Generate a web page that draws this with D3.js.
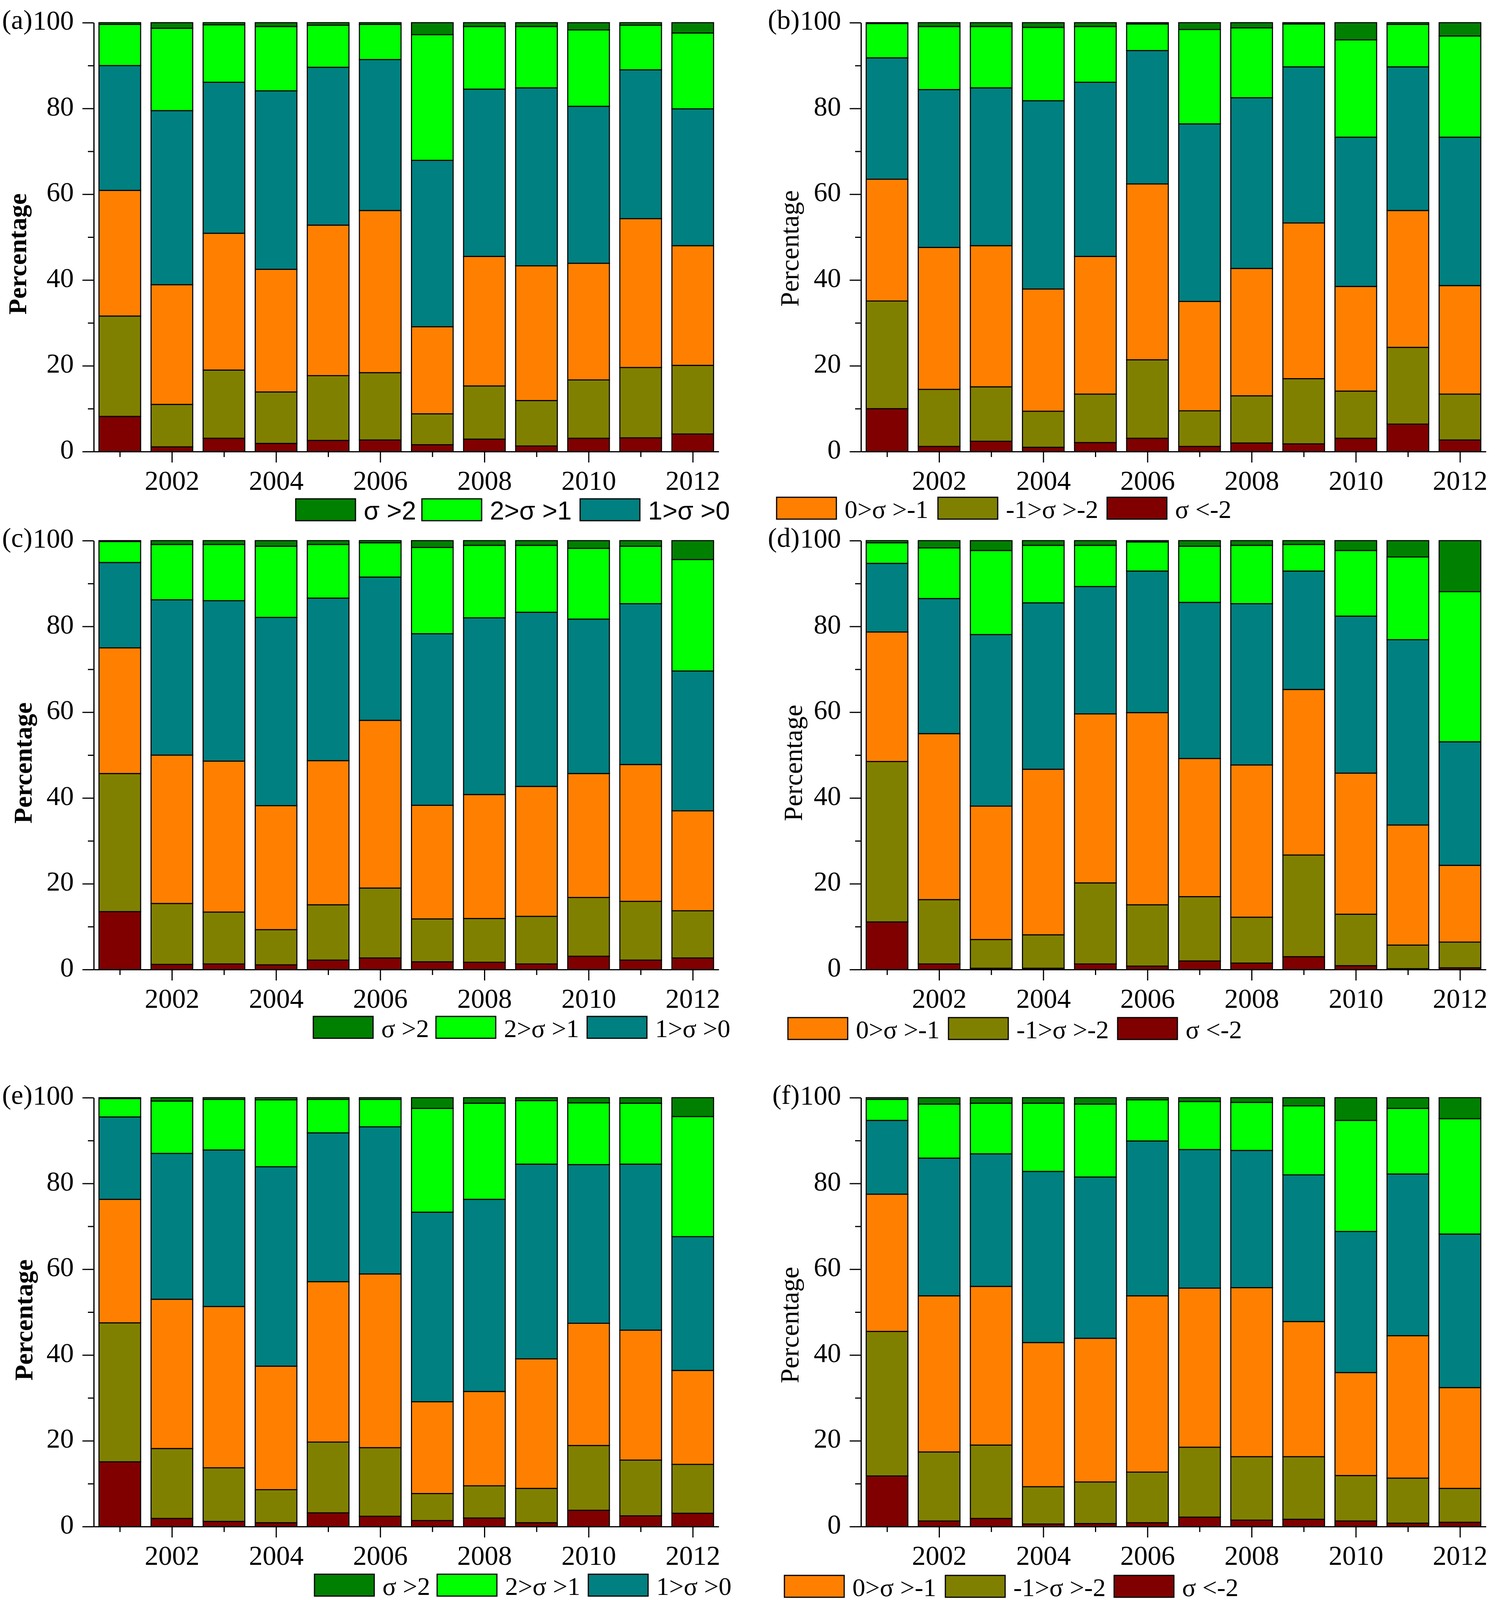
<!DOCTYPE html>
<html>
<head>
<meta charset="utf-8">
<script src="https://cdn.jsdelivr.net/npm/d3@7"></script>
<style>
  body { margin: 0; background: #fff; }
  .axis .domain { stroke: #000; stroke-width: 3.2; }
  .axis line { stroke: #000; stroke-width: 3; }
  .axis text { font-family: "Liberation Serif", "Times New Roman", serif; font-size: 70px; fill: #000; }
</style>
</head>
<body>
<svg id="chart" width="3827" height="4110"></svg>
<script>
// categories
const years = [2001, 2002, 2003, 2004, 2005, 2006, 2007, 2008, 2009, 2010, 2011, 2012];

// series, bottom to top of each stacked bar
const seriesKeys = ['lt2', 'm2', 'm1', 'z1', 'p12', 'gt2'];
const seriesColors = ['#800000', '#808000', '#ff8000', '#008080', '#00ff00', '#008000'];
const seriesLabels = ['σ <-2', '-1>σ >-2', '0>σ >-1', '1>σ >0', '2>σ >1', 'σ >2'];

// legend contents (upper-sigma legend under left panels, lower under right)
const legendUpperKeys = ['gt2', 'p12', 'z1'];
const legendLowerKeys = ['m1', 'm2', 'lt2'];

// ticks
const yTicksMajor = [0, 20, 40, 60, 80, 100];
const yTicksMinor = [10, 30, 50, 70, 90];
const xTicksMajor = [2002, 2004, 2006, 2008, 2010, 2012];
const xTicksMinor = [2001, 2003, 2005, 2007, 2009, 2011];

// percentages per panel, one row per series (lt2, m2, m1, z1, p12, gt2), one column per year
const valuesA = [
  [8.2, 1.1, 3.1, 1.9, 2.6, 2.7, 1.6, 2.9, 1.3, 3.1, 3.2, 4.1],
  [23.4, 9.9, 15.9, 12.0, 15.1, 15.7, 7.2, 12.4, 10.6, 13.6, 16.4, 16.0],
  [29.3, 27.9, 31.9, 28.6, 35.1, 37.8, 20.3, 30.2, 31.4, 27.2, 34.7, 27.9],
  [29.1, 40.6, 35.2, 41.6, 36.8, 35.2, 38.8, 39.0, 41.5, 36.6, 34.7, 31.9],
  [9.6, 19.2, 13.4, 15.0, 9.8, 8.2, 29.3, 14.6, 14.3, 17.8, 10.4, 17.7],
  [0.4, 1.3, 0.5, 0.9, 0.6, 0.4, 2.8, 0.9, 0.9, 1.7, 0.6, 2.4]
];
const valuesB = [
  [10.0, 1.2, 2.4, 1.0, 2.1, 3.1, 1.2, 2.0, 1.8, 3.1, 6.4, 2.7],
  [25.1, 13.3, 12.7, 8.4, 11.3, 18.3, 8.3, 11.0, 15.2, 11.0, 17.9, 10.7],
  [28.4, 33.1, 32.9, 28.5, 32.1, 41.0, 25.5, 29.7, 36.3, 24.4, 31.9, 25.3],
  [28.3, 36.8, 36.8, 43.9, 40.6, 31.1, 41.4, 39.8, 36.4, 34.8, 33.5, 34.6],
  [8.0, 14.7, 14.3, 17.1, 13.0, 6.2, 22.0, 16.3, 10.0, 22.7, 9.9, 23.6],
  [0.2, 0.9, 0.9, 1.1, 0.9, 0.3, 1.6, 1.2, 0.3, 4.0, 0.4, 3.1]
];
const valuesC = [
  [13.5, 1.2, 1.3, 1.1, 2.2, 2.7, 1.8, 1.7, 1.3, 3.1, 2.2, 2.7],
  [32.2, 14.2, 12.1, 8.2, 12.9, 16.3, 10.0, 10.2, 11.1, 13.7, 13.7, 11.0],
  [29.3, 34.6, 35.2, 28.9, 33.6, 39.1, 26.5, 28.9, 30.3, 28.9, 31.9, 23.3],
  [19.9, 36.2, 37.4, 43.9, 37.9, 33.4, 40.0, 41.2, 40.6, 36.0, 37.5, 32.6],
  [4.9, 12.9, 13.1, 16.6, 12.5, 8.0, 20.1, 16.9, 15.6, 16.5, 13.4, 26.0],
  [0.2, 0.9, 0.9, 1.3, 0.9, 0.5, 1.6, 1.1, 1.1, 1.8, 1.3, 4.4]
];
const valuesD = [
  [11.1, 1.3, 0.3, 0.3, 1.3, 0.8, 2.0, 1.5, 3.0, 0.9, 0.2, 0.4],
  [37.4, 15.0, 6.7, 7.8, 18.9, 14.3, 15.0, 10.7, 23.7, 12.0, 5.5, 6.0],
  [30.2, 38.7, 31.1, 38.6, 39.4, 44.8, 32.2, 35.5, 38.6, 32.9, 28.0, 17.9],
  [16.0, 31.5, 40.0, 38.8, 29.7, 33.0, 36.4, 37.6, 27.6, 36.6, 43.2, 28.8],
  [4.8, 11.8, 19.6, 13.4, 9.6, 6.8, 13.1, 13.6, 6.2, 15.3, 19.3, 35.0],
  [0.5, 1.7, 2.3, 1.1, 1.1, 0.3, 1.3, 1.1, 0.9, 2.3, 3.8, 11.9]
];
const valuesE = [
  [15.1, 1.9, 1.2, 0.9, 3.2, 2.4, 1.4, 2.0, 0.9, 3.8, 2.5, 3.1],
  [32.4, 16.3, 12.5, 7.7, 16.5, 16.0, 6.3, 7.5, 8.0, 15.1, 13.0, 11.4],
  [28.8, 34.8, 37.6, 28.8, 37.4, 40.5, 21.4, 22.0, 30.2, 28.5, 30.3, 21.9],
  [19.2, 34.0, 36.5, 46.5, 34.7, 34.3, 44.2, 44.8, 45.4, 37.0, 38.7, 31.2],
  [4.3, 12.2, 11.8, 15.6, 7.8, 6.4, 24.2, 22.4, 14.8, 14.4, 14.2, 28.0],
  [0.2, 0.8, 0.4, 0.5, 0.4, 0.4, 2.5, 1.3, 0.7, 1.2, 1.3, 4.4]
];
const valuesF = [
  [11.8, 1.3, 1.9, 0.6, 0.7, 0.9, 2.2, 1.5, 1.7, 1.3, 0.8, 1.0],
  [33.7, 16.1, 17.1, 8.7, 9.7, 11.8, 16.3, 14.8, 14.6, 10.6, 10.5, 7.9],
  [32.0, 36.4, 37.0, 33.6, 33.5, 41.1, 37.1, 39.4, 31.5, 24.0, 33.2, 23.5],
  [17.2, 32.1, 30.9, 39.9, 37.6, 36.1, 32.3, 32.0, 34.2, 32.9, 37.7, 35.8],
  [4.9, 12.6, 11.8, 15.9, 17.0, 9.6, 11.2, 11.2, 16.1, 25.9, 15.3, 26.9],
  [0.4, 1.5, 1.3, 1.3, 1.5, 0.5, 0.9, 1.1, 1.9, 5.3, 2.5, 4.9]
];

const serif = '"Liberation Serif", "Times New Roman", serif';
const sans = '"Liberation Sans", Arial, sans-serif';

const panels = [
  { tag: '(a)', values: valuesA, left: 240, top: 58, legendKeys: legendUpperKeys, legendX: [757, 1080, 1485], legendY: 1277, legendFont: sans, title: [44, 650], bold: true },
  { tag: '(b)', values: valuesB, left: 2204, top: 58, legendKeys: legendLowerKeys, legendX: [1988, 2401, 2834], legendY: 1273, legendFont: serif, title: [2020, 636], bold: false },
  { tag: '(c)', values: valuesC, left: 240, top: 1384, legendKeys: legendUpperKeys, legendX: [802, 1116, 1503], legendY: 2602, legendFont: serif, title: [58, 1953], bold: true },
  { tag: '(d)', values: valuesD, left: 2204, top: 1384, legendKeys: legendLowerKeys, legendX: [2017, 2428, 2861], legendY: 2605, legendFont: serif, title: [2029, 1953], bold: false },
  { tag: '(e)', values: valuesE, left: 240, top: 2810, legendKeys: legendUpperKeys, legendX: [805, 1119, 1506], legendY: 4030, legendFont: serif, title: [60, 3379], bold: true },
  { tag: '(f)', values: valuesF, left: 2204, top: 2810, legendKeys: legendLowerKeys, legendX: [2008, 2420, 2852], legendY: 4033, legendFont: serif, title: [2020, 3392], bold: false }
];

const plotW = 1600, plotH = 1098;
const svg = d3.select('#chart');

panels.forEach(function(p) {
  const g = svg.append('g').attr('transform', 'translate(' + p.left + ',' + p.top + ')');

  const x = d3.scaleLinear().domain([2000.5, 2012.5]).range([0, plotW]);
  const y = d3.scaleLinear().domain([0, 100]).range([plotH, 0]);
  const bw = (x(2002) - x(2001)) * 0.8;

  const rows = years.map(function(yr, i) {
    const r = { year: yr };
    seriesKeys.forEach(function(k, j) { r[k] = p.values[j][i]; });
    return r;
  });
  const stacked = d3.stack().keys(seriesKeys)(rows);

  g.selectAll('g.layer')
    .data(stacked)
    .join('g')
    .attr('class', 'layer')
    .attr('fill', (d, i) => seriesColors[i])
    .selectAll('rect')
    .data(d => d)
    .join('rect')
    .attr('x', d => x(d.data.year) - bw / 2)
    .attr('width', bw)
    .attr('y', d => y(d[1]))
    .attr('height', d => y(d[0]) - y(d[1]))
    .attr('stroke', '#000')
    .attr('stroke-width', 2.7);

  // y axis: major with labels, minor without
  g.append('g').attr('class', 'axis')
    .call(d3.axisLeft(y).tickValues(yTicksMajor).tickSize(29).tickPadding(22).tickSizeOuter(0))
    .selectAll('text').attr('dy', '0.25em');
  g.append('g').attr('class', 'axis')
    .call(d3.axisLeft(y).tickValues(yTicksMinor).tickSize(15).tickFormat('').tickSizeOuter(0))
    .select('.domain').remove();

  // x axis
  g.append('g').attr('class', 'axis')
    .attr('transform', 'translate(0,' + plotH + ')')
    .call(d3.axisBottom(x).tickValues(xTicksMajor).tickSize(28).tickPadding(20).tickSizeOuter(0).tickFormat(d3.format('d')));
  g.append('g').attr('class', 'axis')
    .attr('transform', 'translate(0,' + plotH + ')')
    .call(d3.axisBottom(x).tickValues(xTicksMinor).tickSize(14).tickFormat('').tickSizeOuter(0))
    .select('.domain').remove();

  // panel tag next to the 100 label
  g.append('text')
    .attr('x', -157)
    .attr('y', 16)
    .attr('text-anchor', 'end')
    .style('font-family', serif)
    .style('font-size', '70px')
    .text(p.tag);

  // y title
  svg.append('text')
    .attr('transform', 'translate(' + p.title[0] + ',' + p.title[1] + ') rotate(-90)')
    .attr('text-anchor', 'middle')
    .attr('dy', '0.35em')
    .style('font-family', serif)
    .style('font-size', p.bold ? '66px' : '68px')
    .style('font-weight', p.bold ? 'bold' : 'normal')
    .text('Percentage');

  // legend
  const lg = svg.append('g');
  p.legendKeys.forEach(function(k, i) {
    const idx = seriesKeys.indexOf(k);
    const lx = p.legendX[i];
    lg.append('rect')
      .attr('x', lx).attr('y', p.legendY)
      .attr('width', 153).attr('height', 56)
      .attr('fill', seriesColors[idx])
      .attr('stroke', '#000').attr('stroke-width', 3);
    lg.append('text')
      .attr('x', lx + 174).attr('y', p.legendY + 53)
      .style('font-family', p.legendFont)
      .style('font-size', '66px')
      .text(seriesLabels[idx]);
  });
});
</script>
</body>
</html>
